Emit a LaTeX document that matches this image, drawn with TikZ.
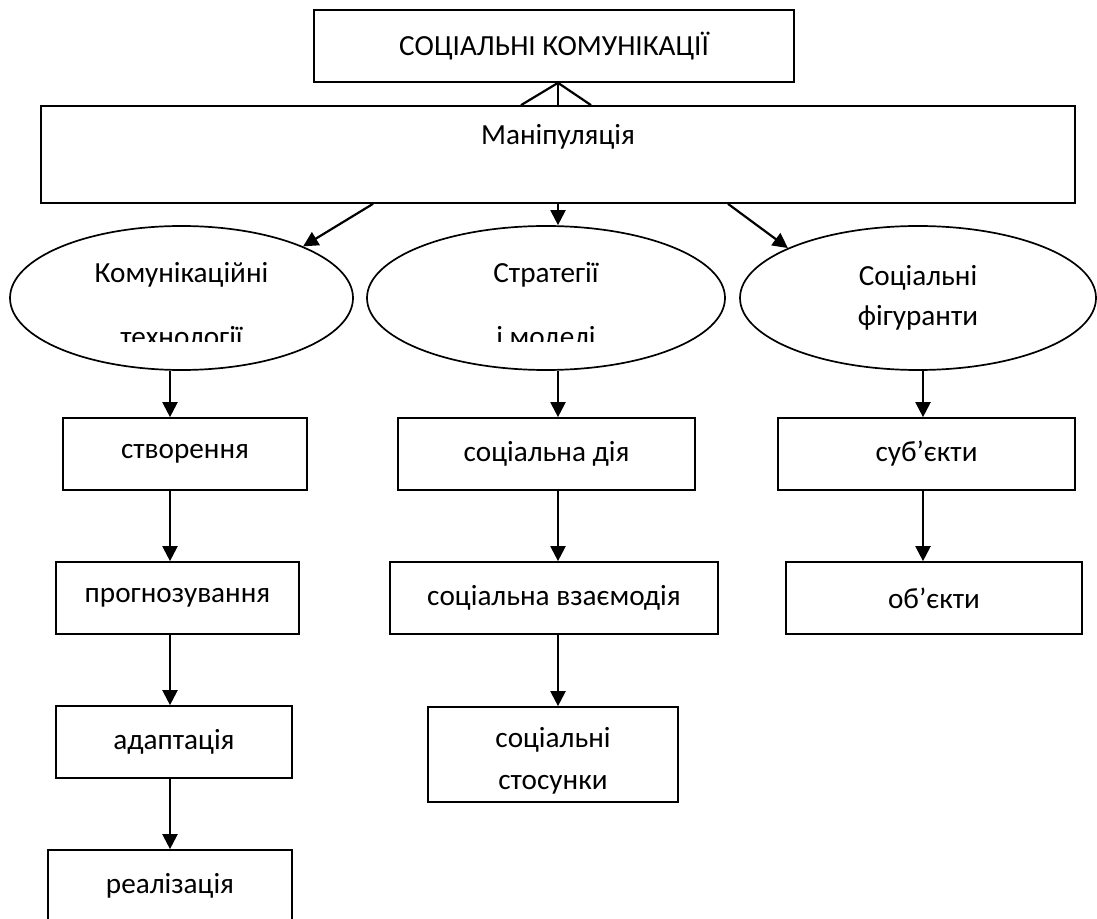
\documentclass[tikz,border=0pt]{standalone}
\usepackage{fontspec}
\setmainfont{Carlito}
\usetikzlibrary{arrows.meta,shapes.geometric}
\begin{document}
\begin{tikzpicture}[x=0.5pt,y=-0.5pt,
  box/.style={draw, line width=0.85pt, rectangle, inner sep=0pt, font=\fontsize{14.6}{17.5}\selectfont},
  oval/.style={draw, line width=0.85pt, ellipse, inner sep=0pt},
  lbl/.style={font=\fontsize{14.6}{17.5}\selectfont, inner sep=0pt, anchor=base},
  arr/.style={line width=1.1pt, -{Triangle[length=7.5pt,width=7.5pt]}},
  link/.style={line width=1.1pt}]
\useasboundingbox (0,0) rectangle (1097,919);
% column coordinates
\coordinate (colL) at (170,0);
\coordinate (colM) at (558,0);
\coordinate (colR) at (923,0);
\coordinate (aL) at (373,0);
\coordinate (aR) at (728,0);
\coordinate (tA) at (521,0);
\coordinate (tB) at (591,0);
% top
\node[box, minimum width=240pt, minimum height=36pt] (top) at (554,46) {СОЦІАЛЬНІ КОМУНІКАЦІЇ};
\node[box, minimum width=517pt, minimum height=48.5pt, text height=5pt, text depth=14.5pt] (manip) at (558,154.5) {Маніпуляція};
% ellipses
\node[oval, minimum width=171.5pt, minimum height=72pt] (e1) at (181.5,298) {};
\node[oval, minimum width=179pt, minimum height=72pt] (e2) at (546,298) {};
\node[oval, minimum width=178pt, minimum height=72pt, align=center, font=\fontsize{14.6}{20}\selectfont] (e3) at (918,298) {Соціальні\\фігуранти};
\node[lbl] (e1a) at (181.5,283) {Комунікаційні};
\node[lbl] (e2a) at (546,283) {Стратегії};
\begin{scope}
\clip (0,0) rectangle (1097,342);
\node[lbl] (e1b) at (181.5,347) {технології};
\node[lbl] (e2b) at (546,347) {і моделі};
\end{scope}
% left column
\node[box, minimum width=122pt, minimum height=36pt] (c1) at (185,454) {створення};
\node[box, minimum width=121.5pt, minimum height=36pt] (c2) at (177.5,598) {прогнозування};
\node[box, minimum width=118pt, minimum height=36pt] (c3) at (174,742) {адаптація};
\node[box, minimum width=122pt, minimum height=36pt] (c4) at (170,886) {реалізація};
% middle column
\node[box, minimum width=148.5pt, minimum height=36pt] (m1) at (546.5,454) {соціальна дія};
\node[box, minimum width=164pt, minimum height=36pt] (m2) at (554,598) {соціальна взаємодія};
\node[box, minimum width=125pt, minimum height=47.5pt, align=center, font=\fontsize{14.6}{21}\selectfont] (m3) at (553,754.5) {\rule{0pt}{16.5pt}соціальні\\стосунки};
% right column
\node[box, minimum width=148.5pt, minimum height=36pt] (r1) at (926.5,454) {суб’єкти};
\node[box, minimum width=148pt, minimum height=36pt] (r2) at (934,598) {об’єкти};
% top links
\draw[link] (top.south -| colM) -- (manip.north -| colM);
\draw[link] (top.south -| colM) -- (manip.north -| tA);
\draw[link] (top.south -| colM) -- (manip.north -| tB);
% arrows from manipulation
\draw[arr] (manip.south -| aL) -- (e1.23);
\draw[arr] (manip.south -| colM) -- (e2.north -| colM);
\draw[arr] (manip.south -| aR) -- (e3.159);
% left column arrows
\draw[arr] (e1.south -| colL) -- (c1.north -| colL);
\draw[arr] (c1.south -| colL) -- (c2.north -| colL);
\draw[arr] (c2.south -| colL) -- (c3.north -| colL);
\draw[arr] (c3.south -| colL) -- (c4.north -| colL);
% middle column arrows
\draw[arr] (e2.south -| colM) -- (m1.north -| colM);
\draw[arr] (m1.south -| colM) -- (m2.north -| colM);
\draw[arr] (m2.south -| colM) -- (m3.north -| colM);
% right column arrows
\draw[arr] (e3.south -| colR) -- (r1.north -| colR);
\draw[arr] (r1.south -| colR) -- (r2.north -| colR);
\end{tikzpicture}
\end{document}
